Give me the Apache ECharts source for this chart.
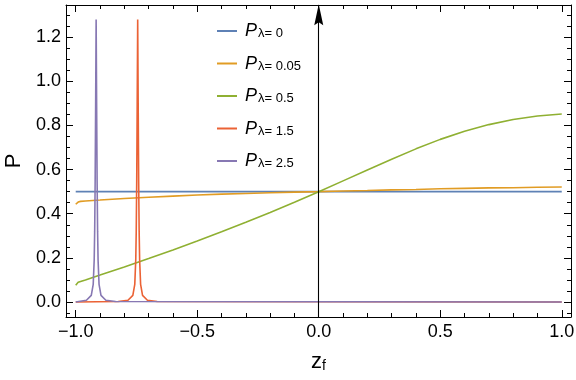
<!DOCTYPE html>
<html>
<head>
<meta charset="utf-8">
<script src="https://cdn.jsdelivr.net/npm/echarts@6/dist/echarts.min.js"></script>
<style>
  html, body { margin: 0; padding: 0; background: #fff; }
  #chart { width: 576px; height: 380px; }
</style>
</head>
<body>
<div id="chart"></div>
<script>
var zf = [-1, -0.995, -0.99, -0.98, -0.96, -0.93, -0.9, -0.8, -0.7, -0.6, -0.5, -0.4, -0.3, -0.2, -0.1,
  0, 0.1, 0.2, 0.3, 0.4, 0.5, 0.6, 0.7, 0.8, 0.9, 1];
var pLam005 = [0.443, 0.45, 0.453, 0.456, 0.458, 0.46, 0.462, 0.469, 0.475, 0.48, 0.485, 0.489, 0.492, 0.495, 0.498,
  0.5, 0.503, 0.505, 0.508, 0.51, 0.513, 0.515, 0.517, 0.518, 0.52, 0.521];
var pLam05 = [0.076, 0.085, 0.089, 0.093, 0.1, 0.111, 0.122, 0.159, 0.197, 0.236, 0.276, 0.318, 0.361, 0.406, 0.452,
  0.5, 0.549, 0.598, 0.647, 0.694, 0.737, 0.774, 0.804, 0.827, 0.843, 0.852];
var pLam0 = 0.5;

// narrow peaks (lambda = 1.5 and 2.5): offset from the centre and height
var peakCenter15 = -0.745;
var peakCenter25 = -0.916;
var peakOffsets = [0.08, 0.04, 0.02, 0.012, 0.008, 0.006, 0.004, 0.002, 0];
var peakHeights = [0.002, 0.008, 0.03, 0.08, 0.19, 0.32, 0.55, 0.9, 1.28];

// ticks
var xMajor = [-1, -0.5, 0, 0.5, 1];
var xMinor = [-0.9, -0.8, -0.7, -0.6, -0.4, -0.3, -0.2, -0.1, 0.1, 0.2, 0.3, 0.4, 0.6, 0.7, 0.8, 0.9];
var yMajor = [0, 0.2, 0.4, 0.6, 0.8, 1.0, 1.2];
var yMinor = [-0.05, 0.05, 0.1, 0.15, 0.25, 0.3, 0.35, 0.45, 0.5, 0.55, 0.65, 0.7, 0.75,
  0.85, 0.9, 0.95, 1.05, 1.1, 1.15, 1.25, 1.3];

var legendNames = ["0", "0.05", "0.5", "1.5", "2.5"];
var colors = ["#5E81B5", "#E19C24", "#8FB032", "#EB6235", "#8778B3"];

var xMin = -1.04, xMax = 1.038;
var yMin = -0.068, yMax = 1.346;

function curve(xs, ys) {
  var out = [];
  for (var i = 0; i < xs.length; i++) out.push([xs[i], ys[i]]);
  return out;
}

function peak(center) {
  var out = [[-1, 0]];
  for (var i = 0; i < peakOffsets.length; i++) {
    out.push([center - peakOffsets[i], peakHeights[i]]);
  }
  for (var j = peakOffsets.length - 2; j >= 0; j--) {
    out.push([center + peakOffsets[j], peakHeights[j]]);
  }
  out.push([1, 0]);
  return out;
}

var font = "Liberation Sans";
var black = "#000";

function xAxisDef(pos, vals, len, labels, line) {
  return {
    type: "value", min: xMin, max: xMax, position: pos,
    axisLine: { show: line, onZero: false, lineStyle: { color: black, width: 1 } },
    axisTick: { show: true, inside: true, length: len, customValues: vals, lineStyle: { color: black, width: 1 } },
    axisLabel: { show: labels, customValues: vals, margin: 6, fontSize: 18, fontFamily: font, color: black,
      formatter: function (v) { return v.toFixed(1).replace("-", "\u2212"); } },
    splitLine: { show: false }
  };
}

function yAxisDef(pos, vals, len, labels, line) {
  return {
    type: "value", min: yMin, max: yMax, position: pos,
    axisLine: { show: line, onZero: false, lineStyle: { color: black, width: 1 } },
    axisTick: { show: true, inside: true, length: len, customValues: vals, lineStyle: { color: black, width: 1 } },
    axisLabel: { show: labels, customValues: vals, margin: 5, fontSize: 18, fontFamily: font, color: black,
      formatter: function (v) { return v.toFixed(1); } },
    splitLine: { show: false }
  };
}

var xAxes = [
  xAxisDef("bottom", xMajor, 7, true, true),
  xAxisDef("bottom", xMinor, 4, false, false),
  xAxisDef("top", xMajor, 7, false, true),
  xAxisDef("top", xMinor, 4, false, false)
];
xAxes[0].name = "{z|z}{f|f}";
xAxes[0].nameLocation = "middle";
xAxes[0].nameGap = 34;
xAxes[0].nameTextStyle = {
  fontFamily: font, color: black,
  rich: {
    z: { fontSize: 22, lineHeight: 22, padding: [0, 0, 4, 0], verticalAlign: "top", fontFamily: font, color: black },
    f: { fontSize: 14, lineHeight: 14, verticalAlign: "bottom", fontFamily: font, color: black }
  }
};

var yAxes = [
  yAxisDef("left", yMajor, 7, true, true),
  yAxisDef("left", yMinor, 4, false, false),
  yAxisDef("right", yMajor, 7, false, true),
  yAxisDef("right", yMinor, 4, false, false)
];
yAxes[0].name = "P";
yAxes[0].nameLocation = "middle";
yAxes[0].nameGap = 40;
yAxes[0].nameTextStyle = { fontSize: 22, fontFamily: font, color: black };

var lineData = [
  [[-1, pLam0], [1, pLam0]],
  curve(zf, pLam005),
  curve(zf, pLam05),
  peak(peakCenter15),
  peak(peakCenter25)
];

var series = [];
for (var k = 0; k < legendNames.length; k++) {
  series.push({
    name: legendNames[k],
    type: "line",
    data: lineData[k],
    xAxisIndex: 0,
    yAxisIndex: 0,
    symbol: "none",
    showSymbol: false,
    smooth: false,
    clip: true,
    color: colors[k],
    lineStyle: { color: colors[k], width: 1.6 },
    emphasis: { disabled: true }
  });
}

// the vertical arrow at z_f = 0
series[0].markLine = {
  silent: true,
  animation: false,
  symbol: ["none", "path://M0,0L4.5,21L0,18L-4.5,21Z"],
  symbolSize: [9, 21],
  symbolKeepAspect: false,
  label: { show: false },
  lineStyle: { color: black, width: 1.1, type: "solid" },
  data: [[{ coord: [0, yMin] }, { coord: [0, 1.302] }]]
};

var chart = echarts.init(document.getElementById("chart"), null, { renderer: "canvas" });
chart.setOption({
  animation: false,
  backgroundColor: "#fff",
  grid: { left: 66, right: 5, top: 5, bottom: 63, containLabel: false, outerBoundsMode: "none" },
  legend: {
    orient: "vertical",
    left: 217,
    top: 22,
    padding: 0,
    itemGap: 11.5,
    itemWidth: 20,
    itemHeight: 2,
    icon: "rect",
    data: legendNames,
    formatter: function (name) { return "{p|P}{s|\u03bb= " + name + "}"; },
    textStyle: {
      fontFamily: font, color: black,
      rich: {
        p: { fontSize: 18, lineHeight: 18, padding: [0, 1, 3, 3], verticalAlign: "top", fontStyle: "italic", fontFamily: font, color: black },
        s: { fontSize: 13, lineHeight: 13, verticalAlign: "bottom", fontFamily: font, color: black }
      }
    }
  },
  xAxis: xAxes,
  yAxis: yAxes,
  series: series
});
</script>
</body>
</html>
